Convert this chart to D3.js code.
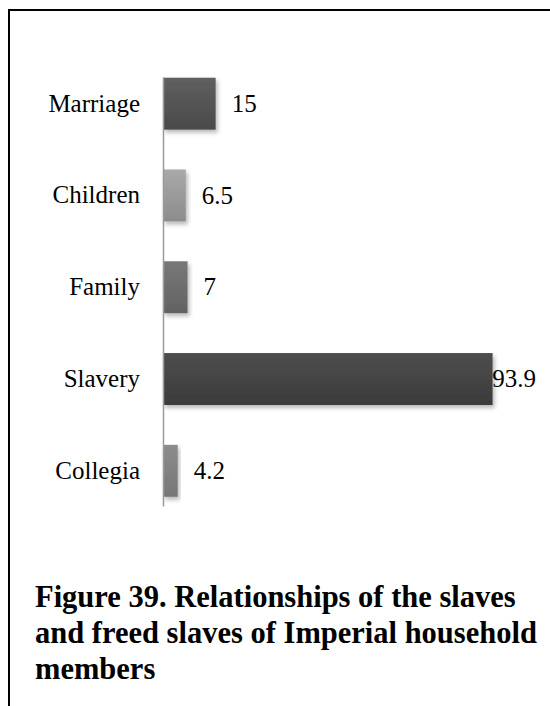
<!DOCTYPE html>
<html><head><meta charset="utf-8">
<script src="https://cdn.jsdelivr.net/npm/d3@7"></script>
<style>body{margin:0;background:#fff}svg{display:block}</style>
</head><body>
<svg id="c" width="550" height="706"></svg>
<script>
const categories = ["Marriage","Children","Family","Slavery","Collegia"];
const values = [15, 6.5, 7, 93.9, 4.2];
const barColors = [["#5f5f5f","#4a4a4a"],["#a9a9a9","#8c8c8c"],["#787878","#626262"],["#4e4e4e","#3a3a3a"],["#8c8c8c","#767676"]];
const titleLines = ["Figure 39. Relationships of the slaves","and freed slaves of Imperial household","members"];
const SERIF = '"Liberation Serif"';

const svg = d3.select("#c");
const defs = svg.append("defs");
const f = defs.append("filter").attr("id","sh").attr("x","-10%").attr("y","-10%").attr("width","130%").attr("height","140%");
f.append("feDropShadow").attr("dx",2).attr("dy",3).attr("stdDeviation",2).attr("flood-color","#000").attr("flood-opacity",0.28);
barColors.forEach((c,i)=>{
  const g = defs.append("linearGradient").attr("id","g"+i).attr("x1",0).attr("y1",0).attr("x2",0).attr("y2",1);
  g.append("stop").attr("offset","0%").attr("stop-color",c[0]);
  g.append("stop").attr("offset","100%").attr("stop-color",c[1]);
});

// frame
svg.append("line").attr("x1",8).attr("x2",550).attr("y1",10).attr("y2",10).attr("stroke","#000").attr("stroke-width",2);
svg.append("line").attr("x1",9).attr("x2",9).attr("y1",9).attr("y2",706).attr("stroke","#000").attr("stroke-width",2);

const x0 = 163;
const x = d3.scaleLinear().domain([0,100]).range([x0, x0+351]);
const y = d3.scaleBand().domain(categories).range([77,506]).paddingInner(0.434).paddingOuter(0.054).align(0.07);

svg.append("g").selectAll("rect").data(values).join("rect")
  .attr("x", x(0)).attr("y",(d,i)=>y(categories[i]))
  .attr("width", d=>x(d)-x(0)).attr("height", y.bandwidth())
  .attr("fill",(d,i)=>`url(#g${i})`).attr("filter","url(#sh)");

const axis = svg.append("g").attr("transform",`translate(${x0},0)`)
  .call(d3.axisLeft(y).tickSize(0).tickPadding(23));
axis.attr("font-family",null).attr("font-size",null);
axis.select(".domain").attr("stroke","#9a9a9a").attr("stroke-width",1.5);
axis.selectAll("text").style("font-family",SERIF).style("font-size","25px").attr("fill","#000");

const labelRight = 536;
svg.append("g").selectAll("text").data(values).join("text")
  .attr("x", d=>x(d)+16).attr("y",(d,i)=>y(categories[i])+y.bandwidth()/2)
  .attr("dy","0.33em")
  .style("font-family",SERIF).style("font-size","25px").attr("fill","#000")
  .text(d=>String(d))
  .each(function(){
    const w = this.getComputedTextLength();
    const xx = +this.getAttribute("x");
    if (xx + w > labelRight) this.setAttribute("x", labelRight - w);
  });

svg.append("g").selectAll("text").data(titleLines).join("text")
  .attr("x",35).attr("y",(d,i)=>607+i*36)
  .style("font-family",SERIF).style("font-weight","bold").style("font-size","30.5px").attr("fill","#000")
  .text(d=>d);
</script>
</body></html>
